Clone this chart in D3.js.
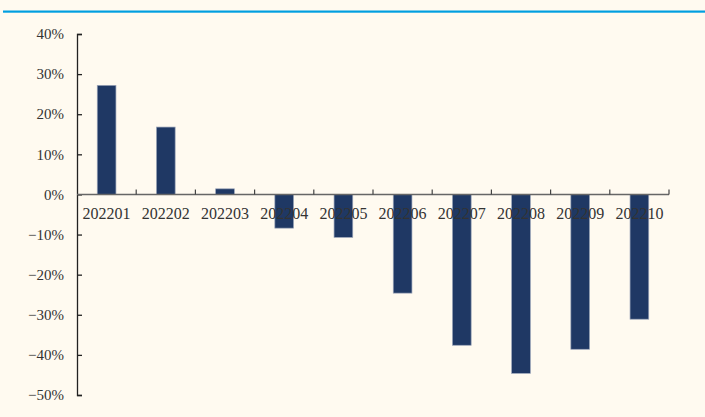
<!DOCTYPE html>
<html>
<head>
<meta charset="utf-8">
<script src="https://cdn.jsdelivr.net/npm/d3@7"></script>
<style>
  html, body { margin: 0; padding: 0; background: #fffaf0; }
  svg { display: block; }
  text { font-family: "Liberation Serif", "Noto Serif", serif; fill: #333; }
</style>
</head>
<body>
<svg id="chart" width="705" height="417"></svg>
<script>
// Monthly growth rate, 2022
const months = ["202201", "202202", "202203", "202204", "202205",
                "202206", "202207", "202208", "202209", "202210"];
const growth = [27.2, 16.8, 1.4, -8.4, -10.7, -24.6, -37.6, -44.6, -38.6, -31.1];
const yTicks = [40, 30, 20, 10, 0, -10, -20, -30, -40, -50];

const svg = d3.select("#chart");
const W = 705, H = 417;
const plotLeft = 77, plotRight = 669, plotTop = 34, plotBottom = 395;

svg.append("rect").attr("width", W).attr("height", H).attr("fill", "#fffaf0");

// header rule
svg.append("rect")
  .attr("x", 3).attr("y", 10.5).attr("width", W - 3).attr("height", 2.2)
  .attr("fill", "#009ee0");

const x = d3.scaleBand().domain(months).range([plotLeft, plotRight]).paddingInner(0).paddingOuter(0);
const y = d3.scaleLinear().domain([-50, 40]).range([plotBottom, plotTop]);

const data = months.map((m, i) => ({ m, v: growth[i] }));
const barW = 18.7;

// bars
svg.append("g").selectAll("rect").data(data).join("rect")
  .attr("x", d => x(d.m) + x.bandwidth() / 2 - barW / 2)
  .attr("y", d => y(Math.max(0, d.v)))
  .attr("width", barW)
  .attr("height", d => Math.abs(y(d.v) - y(0)))
  .attr("fill", "#1f3864")
  .attr("stroke", "#9aa4b8")
  .attr("stroke-width", 0.7);

// y axis
const yAxis = d3.axisRight(y).tickValues(yTicks).tickSize(5).tickFormat("");
const gy = svg.append("g").attr("transform", `translate(${plotLeft},0)`).call(yAxis);
gy.select(".domain").attr("stroke", "#222").attr("stroke-width", 1.3);
gy.selectAll(".tick line").attr("stroke", "#222").attr("stroke-width", 1.3);

svg.append("g").selectAll("text").data(yTicks).join("text")
  .attr("x", 64)
  .attr("y", d => y(d))
  .attr("dy", "0.35em")
  .attr("text-anchor", "end")
  .attr("font-size", 15)
  .text(d => (d < 0 ? "\u2212" + Math.abs(d) : d) + "%");

// x axis along zero line, ticks at category boundaries pointing up
const boundaries = d3.range(months.length + 1).map(i => plotLeft + i * x.bandwidth());
const gx = svg.append("g");
gx.append("line")
  .attr("x1", plotLeft).attr("x2", plotRight)
  .attr("y1", y(0)).attr("y2", y(0))
  .attr("stroke", "#666").attr("stroke-width", 1.5);
gx.selectAll("line.tk").data(boundaries.slice(1)).join("line")
  .attr("class", "tk")
  .attr("x1", d => d).attr("x2", d => d)
  .attr("y1", y(0)).attr("y2", y(0) - 5)
  .attr("stroke", "#444").attr("stroke-width", 1.2);

gx.selectAll("text").data(months).join("text")
  .attr("x", d => x(d) + x.bandwidth() / 2)
  .attr("y", y(0) + 25)
  .attr("text-anchor", "middle")
  .attr("font-size", 16)
  .text(d => d);
</script>
</body>
</html>
